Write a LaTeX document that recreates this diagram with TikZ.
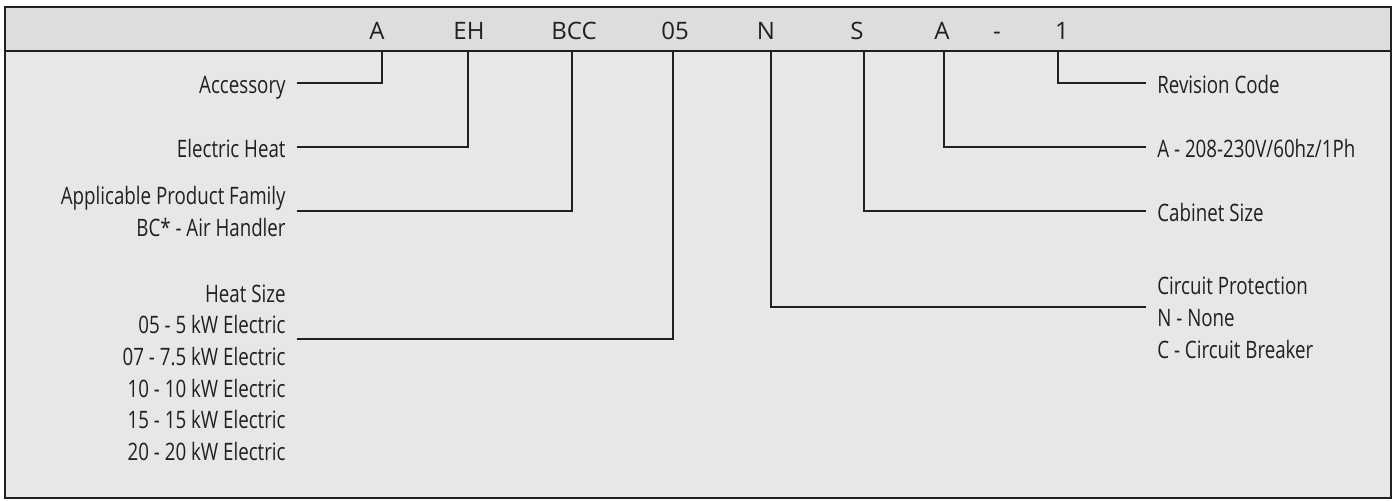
\documentclass[tikz,border=0pt]{standalone}
\usepackage{fontspec}
\newfontfamily\bodyfont{Open Sans}[FakeStretch=0.78]
\newfontfamily\hdrfont{Open Sans}
\definecolor{ink}{HTML}{231F20}
\definecolor{hdrfill}{HTML}{DCDDDF}
\definecolor{bodyfill}{HTML}{E6E7E8}
\begin{document}
\begin{tikzpicture}[x=0.5pt,y=-0.5pt,
  code/.style={font=\hdrfont\fontsize{12pt}{14pt}\selectfont, text=ink, inner sep=0pt, anchor=base},
  lbll/.style={font=\bodyfont\fontsize{12pt}{14pt}\selectfont, text=ink, inner sep=0pt, anchor=base east},
  lblr/.style={font=\bodyfont\fontsize{12pt}{14pt}\selectfont, text=ink, inner sep=0pt, anchor=base west},
  conn/.style={draw=ink, line width=1.1pt, line join=miter},
  frame/.style={draw=ink, line width=1.4pt}]
\useasboundingbox (0,0) rectangle (1395,500);
% panels
\fill[bodyfill] (5,7) rectangle (1391,498);
\fill[hdrfill] (5,7) rectangle (1391,51);
\draw[frame] (5,7) rectangle (1391,498);
\draw[frame] (5,51) -- (1391,51);
% header codes
\node[code] (cA)   at (377,39)  {A};
\node[code] (cEH)  at (469,39)  {EH};
\node[code] (cBCC) at (574,39)  {BCC};
\node[code] (c05)  at (675,39)  {05};
\node[code] (cN)   at (766,39)  {N};
\node[code] (cS)   at (857,39)  {S};
\node[code] (cA2)  at (942,39)  {A};
\node[code] (cD)   at (997,39)  {-};
\node[code] (c1)   at (1062,39) {1};
% connector tops on header line
\coordinate (pA)   at (382,51);
\coordinate (pEH)  at (468,51);
\coordinate (pBCC) at (572,51);
\coordinate (p05)  at (673,51);
\coordinate (pN)   at (771,51);
\coordinate (pS)   at (864,51);
\coordinate (pA2)  at (944,51);
\coordinate (p1)   at (1058,51);
% left labels
\node[lbll] (lAcc)  at (286,93)  {Accessory};
\node[lbll] (lEH)   at (286,157) {Electric Heat};
\node[lbll] (lApp)  at (286,204) {Applicable Product Family};
\node[lbll] (lBC)   at (286,236) {BC* - Air Handler};
\node[lbll] (lHS)   at (286,302) {Heat Size};
\node[lbll] (lH05)  at (286,333) {05 - 5 kW Electric};
\node[lbll] (lH07)  at (286,365) {07 - 7.5 kW Electric};
\node[lbll] (lH10)  at (286,397) {10 - 10 kW Electric};
\node[lbll] (lH15)  at (286,428) {15 - 15 kW Electric};
\node[lbll] (lH20)  at (286,460) {20 - 20 kW Electric};
% right labels
\node[lblr] (rRev)  at (1157,93)  {Revision Code};
\node[lblr] (rVolt) at (1157,157) {A - 208-230V/60hz/1Ph};
\node[lblr] (rCab)  at (1157,221) {Cabinet Size};
\node[lblr] (rCP)   at (1157,294) {Circuit Protection};
\node[lblr] (rNN)   at (1157,326) {N - None};
\node[lblr] (rCB)   at (1157,358) {C - Circuit Breaker};
% connector ends
\coordinate (eAcc)  at (297,83);
\coordinate (eEH)   at (297,147);
\coordinate (eApp)  at (297,211);
\coordinate (eHeat) at (297,339);
\coordinate (eRev)  at (1146,83);
\coordinate (eVolt) at (1146,147);
\coordinate (eCab)  at (1146,211);
\coordinate (eCP)   at (1146,307);
% connectors
\draw[conn] (pA)   |- (eAcc);
\draw[conn] (pEH)  |- (eEH);
\draw[conn] (pBCC) |- (eApp);
\draw[conn] (p05)  |- (eHeat);
\draw[conn] (pN)   |- (eCP);
\draw[conn] (pS)   |- (eCab);
\draw[conn] (pA2)  |- (eVolt);
\draw[conn] (p1)   |- (eRev);
\end{tikzpicture}
\end{document}
